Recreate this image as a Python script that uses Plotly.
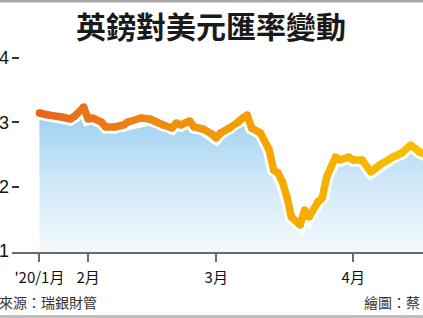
import plotly.graph_objects as go
import pandas as pd

# ---- data ----
dates = [
    "2020-01-21", "2020-01-23", "2020-01-26", "2020-01-28", "2020-01-29", "2020-01-31",
    "2020-02-01", "2020-02-02", "2020-02-04", "2020-02-05", "2020-02-07", "2020-02-09",
    "2020-02-10", "2020-02-13", "2020-02-15", "2020-02-16", "2020-02-18", "2020-02-20",
    "2020-02-21", "2020-02-22", "2020-02-24", "2020-02-25", "2020-02-27", "2020-02-29",
    "2020-03-01", "2020-03-02", "2020-03-04", "2020-03-06", "2020-03-07", "2020-03-08",
    "2020-03-09", "2020-03-11", "2020-03-13", "2020-03-14", "2020-03-15", "2020-03-16",
    "2020-03-17", "2020-03-18", "2020-03-20", "2020-03-21", "2020-03-22", "2020-03-24",
    "2020-03-25", "2020-03-26", "2020-03-28", "2020-03-29", "2020-03-31", "2020-04-01",
    "2020-04-03", "2020-04-05", "2020-04-07", "2020-04-10", "2020-04-12", "2020-04-14",
    "2020-04-16", "2020-04-18",
]
rate = [
    1.3145, 1.3114, 1.3083, 1.3052, 1.3098, 1.3238,
    1.3052, 1.3067, 1.3005, 1.2927, 1.2927, 1.2958,
    1.3005, 1.3067, 1.3052, 1.3021, 1.2958, 1.2912,
    1.2990, 1.2958, 1.3021, 1.2927, 1.2896, 1.2819,
    1.2756, 1.2834, 1.2912, 1.3005, 1.3067, 1.3114,
    1.2912, 1.2834, 1.2570, 1.2259, 1.2212, 1.2072,
    1.1839, 1.1528, 1.1404, 1.1637, 1.1528, 1.1761,
    1.1824, 1.2150, 1.2461, 1.2414, 1.2461, 1.2414,
    1.2414, 1.2228, 1.2337, 1.2461, 1.2523, 1.2648,
    1.2539, 1.2477,
]
tick_dates = ["2020-01-21", "2020-02-01", "2020-03-01", "2020-04-01"]
tick_labels = ["'20/1月", "2月", "3月", "4月"]
y_ticks = [1.1, 1.2, 1.3, 1.4]
y_labels = ["1.1", "1.2", "1.3", "1.4"]

title_text = "英鎊對美元匯率變動"
source_text = "資料來源：瑞銀財管"
credit_text = "繪圖：蔡"

# ---- layout helpers (pixel -> paper) ----
W, H = 423, 318
L, T, B = 12, 45, 252
def ppx(p):
    return (p - L) / (W - L)
def ppy(p):
    return (B - p) / (B - T)

# line colour gradient (left orange-red -> right golden)
stops = [(0.0, (230, 102, 30)), (0.35, (240, 143, 16)), (0.62, (246, 168, 0)), (1.0, (248, 194, 0))]
def grad(f):
    for (f0, c0), (f1, c1) in zip(stops[:-1], stops[1:]):
        if f <= f1:
            t = (f - f0) / (f1 - f0) if f1 > f0 else 0
            return "rgb(%d,%d,%d)" % tuple(round(a + (b - a) * t) for a, b in zip(c0, c1))
    return "rgb(%d,%d,%d)" % stops[-1][1]

ts = pd.to_datetime(dates)
t0, t1 = ts[0], ts[-1]
fracs = [(t - t0) / (t1 - t0) for t in ts]
cols = [grad(f) for f in fracs]

fig = go.Figure()

# blue gradient area
fig.add_trace(go.Scatter(
    x=dates, y=rate, mode="lines", line=dict(width=0, color="rgba(0,0,0,0)"),
    fill="tozeroy",
    fillgradient=dict(type="vertical", start=1.1, stop=1.32,
                      colorscale=[[0, "#f3f9fd"], [0.5, "#cfe8f8"], [1, "#9acff0"]]),
    hoverinfo="skip", showlegend=False,
))

# white halo
fig.add_trace(go.Scatter(
    x=dates, y=rate, mode="lines+markers",
    line=dict(width=13, color="white"),
    marker=dict(size=13, color="white"),
    hoverinfo="skip", showlegend=False,
))

# coloured line, segment by segment
for i in range(len(dates) - 1):
    fig.add_trace(go.Scatter(
        x=dates[i:i + 2], y=rate[i:i + 2], mode="lines",
        line=dict(width=7.5, color=grad((fracs[i] + fracs[i + 1]) / 2)),
        hoverinfo="skip", showlegend=False,
    ))
# round joins
fig.add_trace(go.Scatter(
    x=dates, y=rate, mode="markers",
    marker=dict(size=7.5, color=cols, line=dict(width=0)),
    hoverinfo="skip", showlegend=False,
))

fig.update_layout(
    width=W, height=H,
    margin=dict(l=L, r=0, t=T, b=H - B, pad=0),
    paper_bgcolor="white", plot_bgcolor="rgba(0,0,0,0)",
    showlegend=False,
    xaxis=dict(
        type="date", range=["2020-01-14 19:00", "2020-04-16 19:00"],
        showgrid=False, zeroline=False, automargin=False,
        showline=True, linecolor="#6b6b6b", linewidth=2,
        ticks="outside", ticklen=8, tickwidth=2, tickcolor="#6b6b6b",
        tickvals=tick_dates, ticktext=tick_labels,
        tickfont=dict(family="Noto Sans CJK TC", size=15, color="#111"),
        ticklabelstandoff=3,
    ),
    yaxis=dict(
        range=[1.09845, 1.4202],
        showgrid=False, zeroline=False, showline=False, automargin=False,
        ticks="inside", ticklen=7, tickwidth=1.5, tickcolor="#333",
        tickvals=y_ticks, ticktext=y_labels,
        tickfont=dict(family="Liberation Sans", size=18, color="#111"),
        ticklabelstandoff=2,
    ),
    annotations=[
        dict(text="<b>" + title_text + "</b>", xref="paper", yref="paper",
             x=ppx(211), y=ppy(25), xanchor="center", yanchor="middle", showarrow=False,
             font=dict(family="Noto Sans CJK TC", size=30, color="#1a1a1a")),
        dict(text=source_text, xref="paper", yref="paper",
             x=ppx(99), y=ppy(302), xanchor="right", yanchor="middle", showarrow=False,
             font=dict(family="Noto Sans CJK TC", size=14, color="#333")),
        dict(text=credit_text, xref="paper", yref="paper",
             x=ppx(362), y=ppy(302), xanchor="left", yanchor="middle", showarrow=False,
             font=dict(family="Noto Sans CJK TC", size=14, color="#333")),
    ],
    shapes=[
        dict(type="rect", xref="paper", yref="paper", x0=ppx(0), x1=ppx(W),
             y0=ppy(2.5), y1=ppy(-1), fillcolor="#a8a8a8", line=dict(width=0), layer="above"),
        dict(type="rect", xref="paper", yref="paper", x0=ppx(0), x1=ppx(W),
             y0=ppy(H + 1), y1=ppy(315), fillcolor="#bdbdbd", line=dict(width=0), layer="above"),
    ],
)

fig.write_html("out.html")
